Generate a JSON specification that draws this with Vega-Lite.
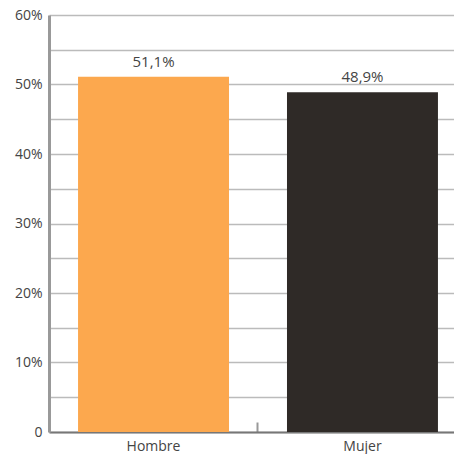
{
  "$schema": "https://vega.github.io/schema/vega-lite/v6.json",
  "autosize": "none",
  "padding": {"left": 49, "top": 15, "right": 0, "bottom": 22},
  "width": 418,
  "height": 417,
  "background": "white",
  "data": {"values": [
    {"sexo": "Hombre", "valor": 0.511, "label": "51,1%"},
    {"sexo": "Mujer", "valor": 0.489, "label": "48,9%"}
  ]},
  "config": {
    "view": {"stroke": null},
    "font": "Open Sans"
  },
  "encoding": {
    "x": {
      "field": "sexo", "type": "nominal", "sort": null,
      "scale": {"paddingInner": 0.2775, "paddingOuter": 0.139},
      "axis": {
        "title": null, "labelAngle": 0, "labelFontSize": 14, "labelColor": "#444",
        "labelFont": "Open Sans",
        "domainColor": "#777", "domainWidth": 2,
        "bandPosition": 1.192, "tickSize": -10, "tickColor": "#999", "tickWidth": 2,
        "labelPadding": 17
      }
    },
    "y": {
      "field": "valor", "type": "quantitative",
      "scale": {"domain": [0, 0.6], "nice": false},
      "axis": {
        "title": null,
        "values": [0, 0.05, 0.1, 0.15, 0.2, 0.25, 0.3, 0.35, 0.4, 0.45, 0.5, 0.55, 0.6],
        "labelExpr": "datum.value == 0 ? '0' : (round(datum.value * 100) % 10 == 0 ? round(datum.value * 100) + '%' : '')",
        "ticks": false, "labelPadding": 7, "labelFontSize": 14, "labelColor": "#444",
        "labelFont": "Open Sans",
        "domainColor": "#999", "domainWidth": 3,
        "gridColor": "#bbb", "gridWidth": 1.5, "gridOpacity": 1
      }
    }
  },
  "layer": [
    {
      "mark": {"type": "bar"},
      "encoding": {
        "color": {
          "field": "sexo", "type": "nominal", "legend": null,
          "scale": {"domain": ["Hombre", "Mujer"], "range": ["#FCA84E", "#2F2A27"]}
        }
      }
    },
    {
      "mark": {"type": "text", "baseline": "bottom", "dy": -7, "fontSize": 15, "color": "#444", "font": "Open Sans"},
      "encoding": {"text": {"field": "label"}}
    }
  ]
}
